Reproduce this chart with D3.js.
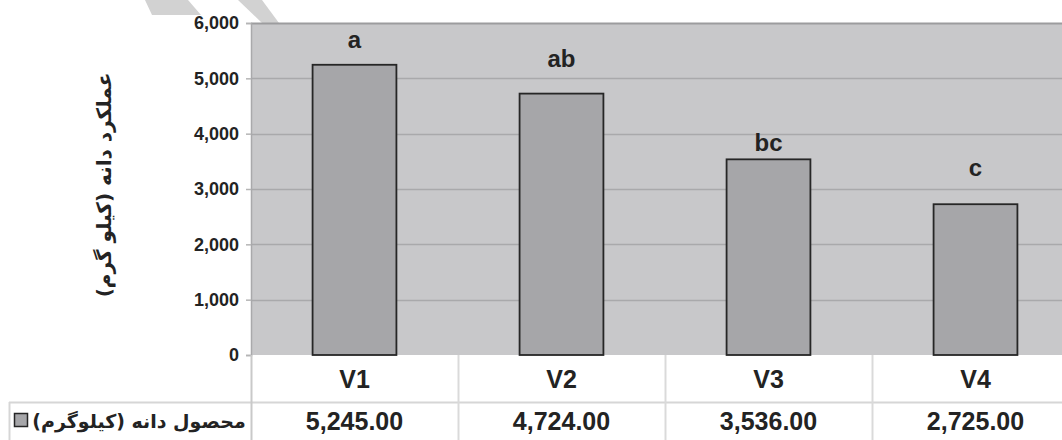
<!DOCTYPE html>
<html>
<head>
<meta charset="utf-8">
<script src="https://cdn.jsdelivr.net/npm/d3@7"></script>
<style>
  html, body { margin: 0; padding: 0; background: #fff; }
  svg { display: block; }
  text { font-family: "Liberation Sans", Arial, sans-serif; font-weight: bold; fill: #232323; }
  .fa { font-family: "DejaVu Sans", "Noto Sans", sans-serif; direction: rtl; unicode-bidi: embed; }
</style>
</head>
<body>
<svg id="chart" width="1062" height="440"></svg>
<script>
// Grain yield per variety (kg)
const categories = ["V1", "V2", "V3", "V4"];
const yieldValues = [5245, 4724, 3536, 2725];
const groupLetters = ["a", "ab", "bc", "c"];
// baseline level (kg) at which each significance letter sits
const letterLevels = [5550, 5200, 3690, 3240];
const yTicks = [0, 1000, 2000, 3000, 4000, 5000, 6000];
const yTitle = "عملکرد دانه (کیلو گرم)";
const seriesName = "محصول دانه (کیلوگرم)";

const svg = d3.select("#chart");
const W = 1062, H = 440;
const plot = { left: 251, right: 1079, top: 23, bottom: 355 };
const tableRow = { top: 355, mid: 402, bottom: 440 };

// faint diagonal marks at the top edge
const marks = [
  [[145, 0], [188, 0], [201, 15], [152, 15]],
  [[238, 0], [262, 0], [279, 23], [262, 23]]
];
svg.selectAll("polygon.mark").data(marks).join("polygon")
  .attr("class", "mark")
  .attr("points", d => d.map(p => p.join(",")).join(" "))
  .attr("fill", "#d2d2d2");

const x = d3.scaleBand().domain(categories).range([plot.left, plot.right]);
const xBar = d3.scaleBand().domain(categories).range([plot.left, plot.right])
  .paddingInner(0.595).paddingOuter(0.2975);
const y = d3.scaleLinear().domain([0, 6000]).range([plot.bottom, plot.top]);

// plot background
svg.append("rect")
  .attr("x", plot.left).attr("y", y(6000))
  .attr("width", plot.right - plot.left).attr("height", y(0) - y(6000))
  .attr("fill", "#c8c8ca");

// gridlines
svg.append("g").selectAll("line").data(yTicks.filter(t => t > 0)).join("line")
  .attr("x1", plot.left).attr("x2", W)
  .attr("y1", d => Math.round(y(d)) + 0.5).attr("y2", d => Math.round(y(d)) + 0.5)
  .attr("stroke", d => d === 6000 ? "#9c9c9e" : "#a9a9ab")
  .attr("stroke-width", d => d === 6000 ? 2 : 1.5);

// y axis
const yAxis = d3.axisLeft(y).tickValues(yTicks).tickSize(5).tickPadding(7)
  .tickFormat(d3.format(","));
const gy = svg.append("g").attr("transform", `translate(${plot.left},0)`).call(yAxis);
gy.select(".domain").attr("stroke", "#a9a9ab").attr("stroke-width", 1.5);
gy.selectAll(".tick line").attr("stroke", "#b5b5b5").attr("stroke-width", 1.5);
gy.selectAll(".tick text").attr("font-size", 18).attr("fill", "#232323")
  .style("font-family", "'Liberation Sans', Arial, sans-serif").style("font-weight", "bold");

// bars
svg.append("g").selectAll("rect").data(yieldValues).join("rect")
  .attr("x", (d, i) => xBar(categories[i]))
  .attr("y", d => y(d))
  .attr("width", xBar.bandwidth())
  .attr("height", d => y(0) - y(d))
  .attr("fill", "#a6a6a9")
  .attr("stroke", "#262626")
  .attr("stroke-width", 1.8);

// significance letters
svg.append("g").selectAll("text").data(groupLetters).join("text")
  .attr("x", (d, i) => x(categories[i]) + x.bandwidth() / 2)
  .attr("y", (d, i) => y(letterLevels[i]))
  .attr("text-anchor", "middle")
  .attr("font-size", 24)
  .text(d => d);

// data table under the plot
const tbl = svg.append("g");
tbl.append("line")
  .attr("x1", 9).attr("x2", W)
  .attr("y1", tableRow.mid + 0.5).attr("y2", tableRow.mid + 0.5)
  .attr("stroke", "#d6d6d6").attr("stroke-width", 2);
tbl.append("line")
  .attr("x1", 9.5).attr("x2", 9.5)
  .attr("y1", tableRow.mid).attr("y2", tableRow.bottom)
  .attr("stroke", "#d6d6d6").attr("stroke-width", 2);
tbl.selectAll("line.col").data(categories).join("line")
  .attr("class", "col")
  .attr("x1", d => x(d) + 0.5).attr("x2", d => x(d) + 0.5)
  .attr("y1", tableRow.top).attr("y2", tableRow.bottom)
  .attr("stroke", d => d === categories[0] ? "#c9c9c9" : "#dadada")
  .attr("stroke-width", 2);

tbl.selectAll("text.cat").data(categories).join("text")
  .attr("class", "cat")
  .attr("x", d => x(d) + x.bandwidth() / 2)
  .attr("y", (tableRow.top + tableRow.mid) / 2)
  .attr("dy", "0.36em")
  .attr("text-anchor", "middle")
  .attr("font-size", 25)
  .text(d => d);

const valFmt = d3.format(",.2f");
tbl.selectAll("text.val").data(yieldValues).join("text")
  .attr("class", "val")
  .attr("x", (d, i) => x(categories[i]) + x.bandwidth() / 2)
  .attr("y", (tableRow.mid + tableRow.bottom) / 2)
  .attr("dy", "0.36em")
  .attr("text-anchor", "middle")
  .attr("font-size", 25)
  .text(d => valFmt(d));

// legend key and series name
tbl.append("rect")
  .attr("x", 14.5).attr("y", 413.5).attr("width", 13).attr("height", 13)
  .attr("fill", "#a6a6a9").attr("stroke", "#262626").attr("stroke-width", 1.5);
tbl.append("text")
  .attr("class", "fa")
  .attr("x", 139).attr("y", (tableRow.mid + tableRow.bottom) / 2)
  .attr("dy", "0.36em")
  .attr("text-anchor", "middle")
  .attr("font-size", 19)
  .text(seriesName);

// y axis title
svg.append("text")
  .attr("class", "fa")
  .attr("transform", `translate(104,${(78 + 292) / 2}) rotate(-90)`)
  .attr("dy", "0.35em")
  .attr("text-anchor", "middle")
  .attr("font-size", 20)
  .text(yTitle);
</script>
</body>
</html>
